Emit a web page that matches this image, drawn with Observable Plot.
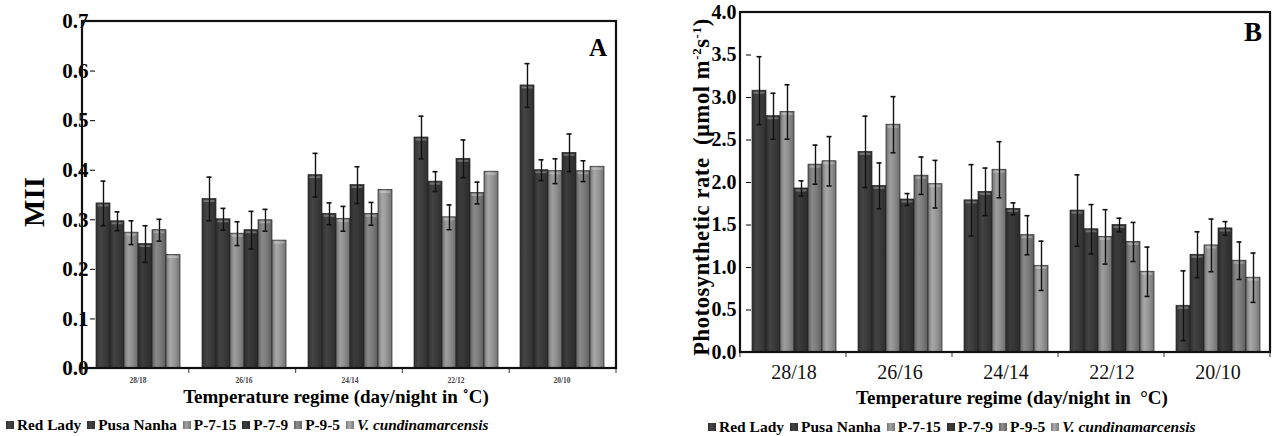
<!DOCTYPE html>
<html><head><meta charset="utf-8">
<script src="https://cdn.jsdelivr.net/npm/d3@7"></script>
<script src="https://cdn.jsdelivr.net/npm/@observablehq/plot@0.6"></script>
<style>
body{margin:0;background:#fff;}
#wrap{position:relative;width:1276px;height:436px;overflow:hidden;font-family:"Liberation Serif","Times New Roman",serif;color:#000;background:#fff;}
.abs{position:absolute;white-space:nowrap;}
.rot{transform:translate(-50%,-50%) rotate(-90deg);}
.ctr{transform:translate(-50%,-50%);}
.legend{display:flex;align-items:center;font-weight:bold;}
.legend .item{display:flex;align-items:center;margin-right:6px;}
.legend .sw{display:inline-block;width:8px;height:8px;margin-right:3px;}
svg text{font-family:"Liberation Serif","Times New Roman",serif;}
#pa [aria-label^="fx-axis"] text{font-size:7.5px;font-weight:bold;fill:#444;}
#pb [aria-label^="fx-axis"] text{font-size:20px;font-weight:normal;fill:#111;}
#pa [aria-label^="y-axis"] text{font-size:21px;font-weight:bold;fill:#000;}
#pb [aria-label^="y-axis"] text{font-size:20px;font-weight:bold;fill:#000;}
</style></head><body>
<div id="wrap">
  <svg width="0" height="0" style="position:absolute"><defs id="grads"></defs></svg>
  <div id="pa" class="abs" style="left:0;top:0"></div>
  <div id="pb" class="abs" style="left:636px;top:0"></div>
  <div class="abs rot" style="left:34px;top:202px;font-size:29px;font-weight:bold;">MII</div>
  <div class="abs rot" style="left:702px;top:187px;font-size:22.5px;font-weight:bold;letter-spacing:0.6px;">Photosynthetic rate&nbsp; (µmol m<sup style="font-size:13px">-2</sup>s<sup style="font-size:13px">-1</sup>)</div>
  <div class="abs ctr" style="left:598px;top:48px;font-size:25px;font-weight:bold;">A</div>
  <div class="abs ctr" style="left:1253px;top:32px;font-size:27px;font-weight:bold;">B</div>
  <div class="abs ctr" style="left:336px;top:397px;font-size:19px;font-weight:bold;">Temperature regime (day/night in&nbsp;˚C)</div>
  <div class="abs ctr" style="left:1012px;top:398px;font-size:19px;font-weight:bold;">Temperature regime (day/night in&nbsp; °C)</div>
  <div id="legA" class="abs legend" style="left:6px;top:416px;font-size:15.3px;"></div>
  <div id="legB" class="abs legend" style="left:708px;top:418px;font-size:15.5px;"></div>
</div>
<script>
// ---- data ----
const groups = ["28/18", "26/16", "24/14", "22/12", "20/10"];
const series = ["Red Lady", "Pusa Nanha", "P-7-15", "P-7-9", "P-9-5", "V. cundinamarcensis"];
const seriesColors = ["#3d3d3d", "#3b3b3b", "#8e8e8e", "#363636", "#7c7c7c", "#979797"];

// Panel A: MII (rows = series, columns = groups)
const miiMean = [
  [0.333, 0.342, 0.390, 0.466, 0.571],
  [0.297, 0.301, 0.312, 0.377, 0.400],
  [0.274, 0.272, 0.302, 0.305, 0.398],
  [0.251, 0.279, 0.370, 0.423, 0.435],
  [0.279, 0.299, 0.312, 0.354, 0.398],
  [0.229, 0.258, 0.360, 0.397, 0.407]
];
const miiErr = [
  [0.045, 0.044, 0.044, 0.043, 0.044],
  [0.019, 0.022, 0.022, 0.020, 0.021],
  [0.024, 0.024, 0.025, 0.025, 0.025],
  [0.037, 0.038, 0.037, 0.038, 0.038],
  [0.022, 0.022, 0.023, 0.022, 0.021],
  [null, null, null, null, null]
];
const miiTicks = [0, 0.1, 0.2, 0.3, 0.4, 0.5, 0.6, 0.7];

// Panel B: photosynthetic rate
const photoMean = [
  [3.08, 2.36, 1.79, 1.67, 0.55],
  [2.78, 1.96, 1.89, 1.45, 1.15],
  [2.83, 2.68, 2.15, 1.36, 1.26],
  [1.93, 1.80, 1.69, 1.50, 1.46],
  [2.21, 2.08, 1.38, 1.30, 1.08],
  [2.25, 1.98, 1.02, 0.95, 0.88]
];
const photoErr = [
  [0.40, 0.42, 0.42, 0.42, 0.41],
  [0.27, 0.27, 0.28, 0.29, 0.27],
  [0.32, 0.33, 0.33, 0.32, 0.31],
  [0.09, 0.07, 0.07, 0.08, 0.08],
  [0.23, 0.22, 0.23, 0.23, 0.22],
  [0.29, 0.28, 0.29, 0.29, 0.29]
];
const photoTicks = [0, 0.5, 1.0, 1.5, 2.0, 2.5, 3.0, 3.5, 4.0];

// ---- gradients ----
const defs = d3.select("#grads");
seriesColors.forEach((c, i) => {
  const base = d3.color(c);
  const g = defs.append("linearGradient").attr("id", "g" + i).attr("x1", 0).attr("x2", 1).attr("y1", 0).attr("y2", 0);
  [[0, base.darker(0.7)], [0.3, base.brighter(0.3)], [0.6, base], [1, base.darker(0.8)]].forEach(([o, col]) =>
    g.append("stop").attr("offset", o).attr("stop-color", col.formatHex()));
});

function rows(mean, err) {
  const out = [];
  groups.forEach((g, j) => series.forEach((s, i) => out.push({group: g, series: s, value: mean[i][j], err: err[i][j]})));
  return out;
}

function panel(el, data, o) {
  const lo = d => d.err == null ? NaN : d.value - d.err;
  const hi = d => d.err == null ? NaN : d.value + d.err;
  const plot = Plot.plot({
    width: o.width, height: o.height,
    marginLeft: o.ml, marginRight: o.mr, marginTop: o.mt, marginBottom: o.mb,
    style: {fontFamily: "Liberation Serif, Times New Roman, serif", fontSize: o.fs + "px", fontWeight: "bold", color: "#000", background: "transparent", overflow: "visible"},
    facet: {data, x: "group"},
    fx: {domain: groups, paddingInner: 0.2, paddingOuter: 0.1, label: null, tickSize: 0, tickPadding: o.fxPad, axis: "bottom"},
    x: {domain: series, axis: null, paddingInner: 0, paddingOuter: 0},
    y: {domain: o.ydomain, ticks: o.ticks, tickFormat: d => d.toFixed(1), tickSize: 5, tickPadding: o.yPad, label: null},
    color: {domain: series, range: series.map((s, i) => `url(#g${i})`)},
    marks: [
      Plot.barY(data, {x: "series", y: "value", fill: "series", stroke: "#262626", strokeWidth: 0.7}),
      Plot.tickY(data, {x: "series", y: "value", stroke: "#ffffff", strokeOpacity: 0.28, strokeWidth: 2, dy: 2, insetLeft: 1.5, insetRight: 1.5}),
      Plot.ruleX(data, {x: "series", y1: lo, y2: hi, stroke: "#111", strokeWidth: 1.4}),
      Plot.tickY(data, {x: "series", y: hi, stroke: "#111", strokeWidth: 1.6, insetLeft: 4.5, insetRight: 4.5}),
      Plot.tickY(data, {x: "series", y: lo, stroke: "#111", strokeWidth: 1.6, insetLeft: 4.5, insetRight: 4.5})
    ]
  });
  const svg = plot.tagName.toLowerCase() === "svg" ? plot : plot.querySelector("svg");
  el.appendChild(plot);
  // frame and category-boundary ticks
  const s = plot.scale("fx");
  const band = d3.scaleBand(s.domain, s.range).paddingInner(s.paddingInner).paddingOuter(s.paddingOuter).align(s.align == null ? 0.5 : s.align);
  const half = band.step() * band.paddingInner() / 2;
  const xs = groups.map(g => band(g) - half).concat([band(groups[groups.length - 1]) + band.bandwidth() + half]);
  const sel = d3.select(svg);
  const bottom = o.height - o.mb;
  sel.append("g").selectAll("line").data(xs).join("line")
    .attr("x1", d => d).attr("x2", d => d).attr("y1", bottom).attr("y2", bottom + 5)
    .attr("stroke", "#555").attr("stroke-width", 1.2);
  sel.append("rect").attr("x", o.ml).attr("y", o.mt)
    .attr("width", o.width - o.ml - o.mr).attr("height", o.height - o.mt - o.mb)
    .attr("fill", "none").attr("stroke", "#111").attr("stroke-width", 2.2);
}

panel(document.getElementById("pa"), rows(miiMean, miiErr),
  {width: 630, height: 390, ml: 82, mr: 14, mt: 21, mb: 22, fs: 17, fxPad: 9, yPad: 2, ydomain: [0, 0.7], ticks: miiTicks});
panel(document.getElementById("pb"), rows(photoMean, photoErr),
  {width: 640, height: 385, ml: 104, mr: 6, mt: 12, mb: 33, fs: 19, fxPad: 12, yPad: 10, ydomain: [0, 4], ticks: photoTicks});

// legends
function legend(id) {
  const el = d3.select(id);
  series.forEach((s, i) => {
    const it = el.append("span").attr("class", "item");
    const c = d3.color(seriesColors[i]);
    it.append("span").attr("class", "sw")
      .style("background", `linear-gradient(90deg, ${c.darker(0.7).formatHex()}, ${c.brighter(0.4).formatHex()} 40%, ${c.darker(0.6).formatHex()})`);
    const t = it.append("span").text(s);
    if (s.startsWith("V.")) t.style("font-style", "italic");
  });
}
legend("#legA");
legend("#legB");
</script>
</body></html>
